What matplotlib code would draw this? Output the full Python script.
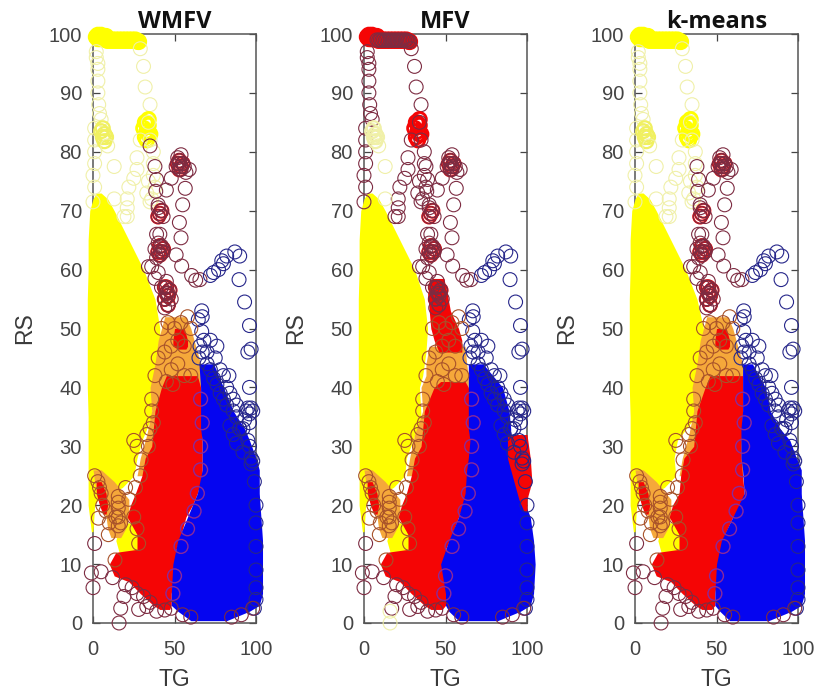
"""Three side-by-side RS vs TG cluster scatter panels (WMFV, MFV, k-means)."""
import matplotlib
matplotlib.use("Agg")
import matplotlib.pyplot as plt

plt.rcParams.update({
    "font.family": "Liberation Sans",
    "font.size": 14.5,
    "axes.linewidth": 1.1,
    "axes.edgecolor": "#555555",
    "text.color": "#3a3a3a",
    "axes.labelcolor": "#3a3a3a",
    "xtick.color": "#444444",
    "ytick.color": "#444444",
})

YELLOW = "#ffff00"
RED = "#f50505"
BLUE = "#0505f0"
ORANGE = "#f5a83a"
C_YELLOW = "#f0f0a8"
C_RED = "#7d2c42"
C_BLUE = "#26268a"
C_ORANGE = "#a8522a"
C_PURPLE = "#8a2a9a"

titles = ["WMFV", "MFV", "k-means"]
y_ticks = [0, 10, 20, 30, 40, 50, 60, 70, 80, 90, 100]
x_ticks = [0, 50, 100]

# saturated regions, extents per RS level
yellow_rs = [73, 72, 70, 65, 60, 55, 50, 46, 42, 40, 35, 31, 28, 25, 23, 21, 20, 15.5]
yellow_left = [2, 0, -2, -3, -3, -3.5, -3.5, -3.5, -3.5, -3.5, -3, -3, -3, -3, -3, -3, -3, -1]
yellow_right_a = [5, 9, 13, 22, 31, 38, 41, 41, 38, 36, 36, 30, 27, 25, 18, 3, 1, 0]
yellow_right_b = [5, 9, 13, 22, 31, 37, 39, 38, 36, 34, 35, 30, 26, 25, 18, 3, 1, 0]
yellow_right_c = [5, 9, 13, 22, 31, 38, 42, 42, 39, 37, 37, 26, 24, 25, 18, 3, 1, 0]

patch_rs = [17, 14, 12]
patch_left = [17, 14, 16]
patch_right = [27, 30, 30]

orange_rs_a = [52, 50, 48, 44, 40, 36, 32, 28, 25]
orange_left_a = [44, 42, 40, 38, 35, 36, 33, 29, 27]
orange_right_a = [57, 60, 62, 66, 66, 66, 66, 66, 66]
orange_rs_b = [47, 44, 42, 40, 36, 32, 28, 25]
orange_left_b = [40, 38, 38, 35, 36, 31, 28, 26]
orange_right_b = [62, 63, 64, 64, 64, 64, 64, 64]

wedge_rs = [26, 24, 21, 18, 16, 14.5]
wedge_left = [0, 1, 3, 8, 9, 11]
wedge_right = [5, 13, 22, 22, 20, 17]
core_rs = [24, 22, 20, 18.5]
core_left = [2, 2, 4, 6]
core_right = [5, 8, 9, 8]

# red block over the orange band
upper_rs_a = [50, 48, 47, 46.5]
upper_left_a = [50, 49, 49, 52]
upper_right_a = [56, 58, 58, 57]
upper_rs_b = [58.5, 56, 53, 50, 48, 46]
upper_left_b = [42, 39, 40, 41, 43, 46]
upper_right_b = [49, 51, 53, 58, 60, 60]

red_rs_a = [42, 40, 36, 30, 28, 25, 22, 20, 18, 15, 12.5, 12, 10, 8, 7, 5, 3, 2.3]
red_left_a = [45, 42, 38, 36, 32, 30, 26, 23, 21, 27, 27, 14, 10, 13, 22, 29, 37, 41]
red_right_a = [64, 66, 67, 67, 67, 67, 64, 61, 57, 54, 51, 51, 50, 49, 49, 48, 48, 47]
red_rs_b = [41, 40, 36, 30, 28, 25, 22, 20, 18, 15, 12.5, 12, 10, 8, 7, 5, 3, 2.3]
red_left_b = [47, 43, 37, 35, 31, 29, 26, 23, 21, 27, 27, 14, 10, 13, 22, 29, 37, 41]
red_right_b = [62, 64, 66, 66, 65, 64, 63, 61, 58, 54, 50, 50, 48, 49, 50, 50, 50, 48]
red_rs_c = [42, 40, 36, 30, 28, 25, 22, 20, 18, 15, 12.5, 12, 10, 8, 7, 5, 3, 2.3]
red_left_c = [46, 43, 38, 36, 30, 28, 27, 23, 21, 27, 27, 14, 10, 13, 22, 29, 37, 41]
red_right_c = [66, 66, 66, 65, 65, 66, 67, 66, 60, 55, 53, 53, 51, 50, 50, 49, 49, 47]

blue_rs = [44, 40, 36, 33, 31, 28, 26, 22, 18, 14, 10, 5, 3, 2, 0.4]
blue_left_a = [65, 66, 66, 66, 67, 67, 67, 64, 58, 52, 49, 48, 48, 52, 60]
blue_right_a = [74, 80, 86, 93, 96, 100, 102, 102, 103, 104, 104, 104, 102, 96, 82]
blue_left_b = [64, 64, 64, 64, 65, 64, 63, 62, 58, 52, 47, 50, 50, 52, 58]
blue_right_b = [73, 85, 89, 90, 90, 92, 94, 96, 102, 104, 105, 104, 102, 96, 82]
blue_left_c = [66, 66, 66, 65, 65, 65, 66, 67, 60, 53, 50, 49, 49, 52, 58]
blue_right_c = [72, 80, 83, 89, 95, 99, 102, 102, 103, 104, 104, 104, 102, 96, 82]

# red block at the right edge, only for MFV
side_rs = [32, 28, 24, 21, 19]
side_left = [88, 88, 92, 95, 98]
side_right = [100, 102, 103, 100, 100]

# individually readable circles
band_tg = [2, 3, 4, 5, 6, 7, 8, 3, 5, 7, 8, 9, 10, 11, 12, 13, 14, 15, 16, 17, 18, 19, 20, 21, 22, 23, 24, 25, 26, 27, 28]
band_rs = [99.5, 99.8, 99.2, 99.8, 99.5, 99.2, 99.6, 99.2, 99.2, 99.2, 99, 98.9, 99, 98.9, 99, 98.9, 99, 98.9, 99, 98.9, 99, 98.9, 99, 98.9, 99, 98.9, 99, 98.9, 99, 98.8, 98.7]
column_tg = [2, 2, 3, 3, 3, 3, 3.5, 4, 5, 29, 31, 32, 35]
column_rs = [97, 96, 95, 94, 92, 90, 88, 86.5, 85.5, 97.5, 94.5, 91, 88]
left_tg = [1, 1, 1, 1, 0, 1, 0]
left_rs = [84, 82, 80, 78, 76, 74, 71.5]
peak_core_tg = [31, 32, 33, 34, 35, 32, 33, 34, 33, 34]
peak_core_rs = [84, 85, 83.5, 84.5, 83, 82.5, 82, 83, 84.8, 85.5]
peak_tg = [34, 29, 27, 27, 25, 22, 21, 21, 21, 19, 35, 37, 37, 37, 34, 33, 35, 36, 38]
peak_rs = [85, 82, 79, 77, 75.5, 74, 72, 70.5, 69, 69, 82, 80, 78, 76, 75, 73, 71.5, 72, 74]
hump_core_tg = [5, 6, 7, 8, 6, 7]
hump_core_rs = [83.5, 82.5, 83, 82.5, 84, 81.8]
hump_tg = [9, 13, 13]
hump_rs = [81, 77.5, 72]

chain_tg = [38, 39, 38.5, 45, 48, 51, 53, 54, 55, 56, 57, 52, 54, 53, 59, 56.6, 55, 53, 54, 51, 54.4, 60.5, 63, 65.6,
            40, 42, 43, 40, 39, 41, 42, 38, 40, 43, 39, 41, 36, 34, 40, 45, 38, 42, 46, 44, 47, 46, 44, 48]
chain_rs = [77.5, 75.3, 73.3, 73.5, 75.5, 77.5, 78.5, 77, 78, 77.5, 76.5, 79, 79.5, 78, 77, 73.8, 71, 68, 65.4, 62.5, 60.6, 59, 58.2, 58.3,
            70.5, 70, 69, 71, 66, 66, 64, 63.5, 64.5, 63, 62, 62.5, 60.5, 60.5, 59.5, 58, 58.5, 57, 56, 55, 56.5, 54, 53.5, 55]
blob_tg = [41, 42, 40, 41, 42, 41, 43, 40, 44, 45, 46, 47, 44, 45, 46, 52, 53, 54, 55, 53]
blob_rs = [69.5, 70, 69, 64, 63, 62.5, 63.5, 63, 57, 56, 55.5, 56.5, 55, 57, 54, 78, 78.5, 77.5, 78, 77]
blue_chain_tg = [72, 74, 77, 79, 80, 82, 87, 90, 89.6, 93, 96, 97, 95, 83.4, 96, 66.7, 67, 64.6, 66.7, 65.6, 65, 67, 68, 70, 72, 74,
                 76, 78, 80, 82, 84, 86, 88, 90, 93, 94, 95, 96, 97, 98, 96, 84, 86, 88, 92, 96, 97, 98, 99, 100, 100, 100, 100, 100, 100, 99,
                 97, 90, 86, 80, 75, 70, 78, 82, 88, 92, 95, 76, 72]
blue_chain_rs = [59, 59.5, 60, 61.5, 61, 62.3, 63, 62.3, 58.3, 54.5, 50.5, 46.5, 46, 42, 40, 53, 52, 51.5, 49.5, 47, 45, 46, 48, 44, 43, 41.5,
                 40.5, 39, 38, 37, 39, 36, 35, 33, 34.5, 36, 36.5, 35.5, 36.5, 36, 34, 33.5, 32, 30.5, 29, 30, 28, 27.5, 24, 20, 17, 13, 9, 6, 4, 2.5,
                 27, 33, 38, 42, 45, 46, 43, 40, 37, 33, 31, 47, 48]
fringe_tg = [42, 46, 50, 54, 58, 60, 48, 52, 56, 44, 40, 48, 49, 52, 56, 60, 38, 36, 37, 45, 25, 27, 34, 29.5, 29, 26,
             1, 3, 4, 5, 6, 8, 10, 15.5, 15.5, 15.5, 15.5, 15.5, 14, 17, 3.3, 9.4, 13.5, 25, 27, 28, 22, 20, 33, 36, 35]
fringe_rs = [50, 51, 50, 51, 52, 50, 47, 48, 47, 46, 45, 43, 40.5, 44, 42, 42, 42, 38, 34, 41, 31, 30, 30, 27.7, 25, 23,
             25, 24, 23, 22, 20, 19, 17, 21.5, 20.5, 19.5, 18, 16.5, 18, 17, 17.8, 15, 10.7, 18, 16, 13.5, 21, 23, 32, 36, 33]
purple_tg = [66, 67, 66, 66, 64, 62, 58, 54, 50, 49]
purple_rs = [38, 34, 30, 26, 22, 19, 16, 13, 8, 5]
low_tg = [1, -1, 0, 5, 12, 20, 19, 17, 28, 33, 27, 31, 39, 48, 55, 91, 98, 24, 35, 44, 60, 85]
low_rs = [13.5, 8.5, 6, 8.7, 7.7, 6.5, 4.5, 2.5, 2.3, 2.8, 5, 4.5, 2, 2.5, 1.4, 1.4, 2.5, 6, 3.5, 2.2, 1, 1]
# circle at the bottom and the dark one below the peak differ between methods
corner_tg = [16, 16]
corner_rs = [0, 2]
dark_tg = [35]
dark_rs = [81]

panel_left = [93, 364, 635]
yellow_rights = [yellow_right_a, yellow_right_b, yellow_right_c]
orange_bands = [(orange_rs_a, orange_left_a, orange_right_a), (orange_rs_b, orange_left_b, orange_right_b), (orange_rs_a, orange_left_a, orange_right_a)]
upper_blocks = [(upper_rs_a, upper_left_a, upper_right_a), (upper_rs_b, upper_left_b, upper_right_b), (upper_rs_a, upper_left_a, upper_right_a)]
red_blocks = [(red_rs_a, red_left_a, red_right_a), (red_rs_b, red_left_b, red_right_b), (red_rs_c, red_left_c, red_right_c)]
blue_blocks = [(blue_left_a, blue_right_a), (blue_left_b, blue_right_b), (blue_left_c, blue_right_c)]


def fill(ax, rs, lo, hi, color, z):
    ax.fill_betweenx(rs, lo, hi, color=color, lw=0, clip_on=False, zorder=z)


def circles(ax, tg, rs, color, lw=0.8, z=4):
    ax.scatter(tg, rs, s=100, facecolors="none", edgecolors=color,
               linewidths=lw, clip_on=False, zorder=z)


def draw_panel(ax, i):
    mfv = titles[i] == "MFV"
    fill(ax, yellow_rs, yellow_left, yellow_rights[i], YELLOW, 3)
    fill(ax, patch_rs, patch_left, patch_right, YELLOW, 3)
    fill(ax, wedge_rs, wedge_left, wedge_right, ORANGE, 3.2)
    fill(ax, core_rs, core_left, core_right, RED, 3.3)
    fill(ax, *orange_bands[i], ORANGE, 3.2)
    fill(ax, *upper_blocks[i], RED, 3.4)
    fill(ax, *red_blocks[i], RED, 3.5)
    fill(ax, blue_rs, *blue_blocks[i], BLUE, 3.6)
    if mfv:
        fill(ax, side_rs, side_left, side_right, RED, 3.7)

    arc = C_RED if mfv else C_YELLOW
    circles(ax, band_tg, band_rs, RED if mfv else YELLOW, lw=2.2)
    if mfv:
        circles(ax, band_tg[10:], band_rs[10:], C_RED, z=4.1)
    circles(ax, column_tg, column_rs, arc)
    circles(ax, left_tg, left_rs, arc)
    circles(ax, peak_core_tg, peak_core_rs, RED if mfv else YELLOW, lw=2.0)
    circles(ax, peak_tg, peak_rs, arc)
    circles(ax, hump_core_tg, hump_core_rs, "#f0f060" if not mfv else C_YELLOW, lw=1.6)
    circles(ax, hump_tg, hump_rs, C_YELLOW)
    circles(ax, blob_tg, blob_rs, RED, lw=1.4)
    circles(ax, blob_tg, blob_rs, C_RED)
    circles(ax, chain_tg, chain_rs, C_RED)
    circles(ax, blue_chain_tg, blue_chain_rs, C_BLUE)
    circles(ax, fringe_tg, fringe_rs, C_ORANGE)
    circles(ax, purple_tg, purple_rs, C_PURPLE, lw=1.0)
    circles(ax, low_tg, low_rs, C_RED)
    circles(ax, corner_tg[:1] if not mfv else corner_tg, corner_rs[:1] if not mfv else corner_rs, C_YELLOW if mfv else C_RED)
    if i == 0:
        circles(ax, dark_tg, dark_rs, C_RED)

    ax.set_xlim(0, 100)
    ax.set_ylim(0, 100)
    ax.set_xticks(x_ticks)
    ax.set_yticks(y_ticks)
    ax.tick_params(direction="in", length=5, width=0.9, top=True, right=True)
    ax.tick_params(axis="y", pad=8)
    ax.tick_params(axis="x", pad=12)
    ax.set_xlabel("TG", labelpad=7, fontsize=16.5)
    ax.set_ylabel("RS", labelpad=9, fontsize=16.5)
    ax.set_title(titles[i], fontsize=17, fontweight="bold", family="Open Sans", color="#111111", pad=4)


fig = plt.figure(figsize=(8.18, 6.93), dpi=100)
for i, left in enumerate(panel_left):
    ax = fig.add_axes([left / 818, 70 / 693, 163 / 818, 589 / 693])
    draw_panel(ax, i)

fig.savefig("out.png", dpi=100)
